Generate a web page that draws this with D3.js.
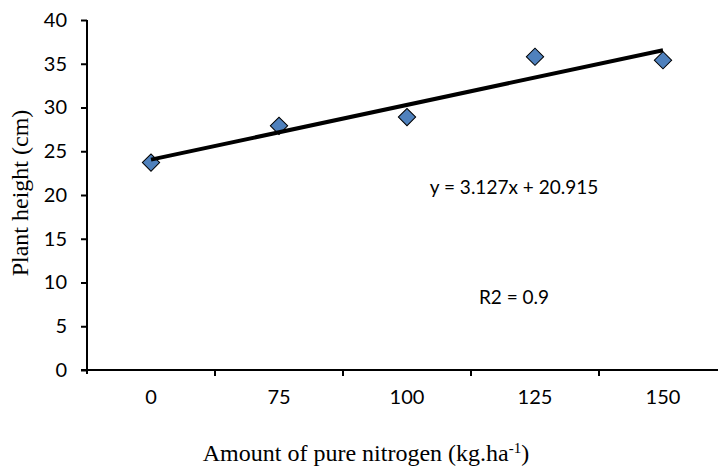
<!DOCTYPE html>
<html><head><meta charset="utf-8">
<script src="https://cdn.jsdelivr.net/npm/d3@7"></script>
<style>body{margin:0;background:#fff}</style>
</head><body>
<svg id="c" width="718" height="466"></svg>
<script>
const categories = ["0", "75", "100", "125", "150"];
const heights = [23.7, 27.9, 28.9, 35.8, 35.4];
const yTicks = [0, 5, 10, 15, 20, 25, 30, 35, 40];
const slope = 3.127, intercept = 20.915;
const eqLabel = "y = 3.127x + 20.915";
const r2Label = "R2 = 0.9";

const svg = d3.select("#c");
const x = d3.scaleBand().domain(categories).range([87, 727]).padding(0);
const y = d3.scaleLinear().domain([0, 40]).range([370, 20]);
const tickFont = "Lato, 'Open Sans', sans-serif";

// Y axis
const yAxis = svg.append("g").attr("transform", "translate(87,0)")
  .call(d3.axisLeft(y).tickValues(yTicks).tickSize(6).tickPadding(14));
yAxis.select(".domain").attr("stroke", "#000").attr("stroke-width", 2).attr("d", "M0,20V374");
yAxis.selectAll(".tick line").attr("stroke", "#000").attr("stroke-width", 2);
yAxis.selectAll("text").attr("font-family", tickFont).attr("font-size", 20).attr("fill", "#000");

// X axis labels (band centers)
const xAxis = svg.append("g").attr("transform", "translate(0,370)")
  .call(d3.axisBottom(x).tickSize(0).tickPadding(20));
xAxis.select(".domain").attr("stroke", "#000").attr("stroke-width", 2).attr("d", "M81,0H718");
xAxis.selectAll("text").attr("font-family", tickFont).attr("font-size", 20).attr("fill", "#000");
// boundary tick marks
svg.append("g").selectAll("line").data(categories.slice(1)).join("line")
  .attr("x1", d => x(d)).attr("x2", d => x(d))
  .attr("y1", 370).attr("y2", 376).attr("stroke", "#000").attr("stroke-width", 2);

// markers
const cx = d => x(d) + x.bandwidth() / 2;
svg.append("g").selectAll("path").data(categories.map((c, i) => [c, heights[i]])).join("path")
  .attr("d", d3.symbol(d3.symbolSquare, 150)())
  .attr("transform", d => `translate(${cx(d[0])},${y(d[1])}) rotate(45)`)
  .attr("fill", "#4F81BD").attr("stroke", "#000").attr("stroke-width", 1);

// trendline
const n = categories.length;
svg.append("line")
  .attr("x1", cx(categories[0])).attr("y1", y(slope * 1 + intercept))
  .attr("x2", cx(categories[n - 1])).attr("y2", y(slope * n + intercept))
  .attr("stroke", "#000").attr("stroke-width", 4);

// annotations
svg.append("text").attr("x", 514).attr("y", 194).attr("text-anchor", "middle")
  .attr("font-family", tickFont).attr("font-size", 19).text(eqLabel);
svg.append("text").attr("x", 514).attr("y", 304).attr("text-anchor", "middle")
  .attr("font-family", tickFont).attr("font-size", 19).text(r2Label);

// axis titles
const serif = "'Liberation Serif', 'Times New Roman', serif";
svg.append("text").attr("transform", "translate(28,193) rotate(-90)").attr("text-anchor", "middle")
  .attr("font-family", serif).attr("font-size", 24).text("Plant height (cm)");
const xt = svg.append("text").attr("x", 366).attr("y", 461).attr("text-anchor", "middle")
  .attr("font-family", serif).attr("font-size", 24);
xt.append("tspan").text("Amount of pure nitrogen  (kg.ha");
xt.append("tspan").attr("dy", -8).attr("font-size", 15).text("-1");
xt.append("tspan").attr("dy", 8).text(")");
</script>
</body></html>
